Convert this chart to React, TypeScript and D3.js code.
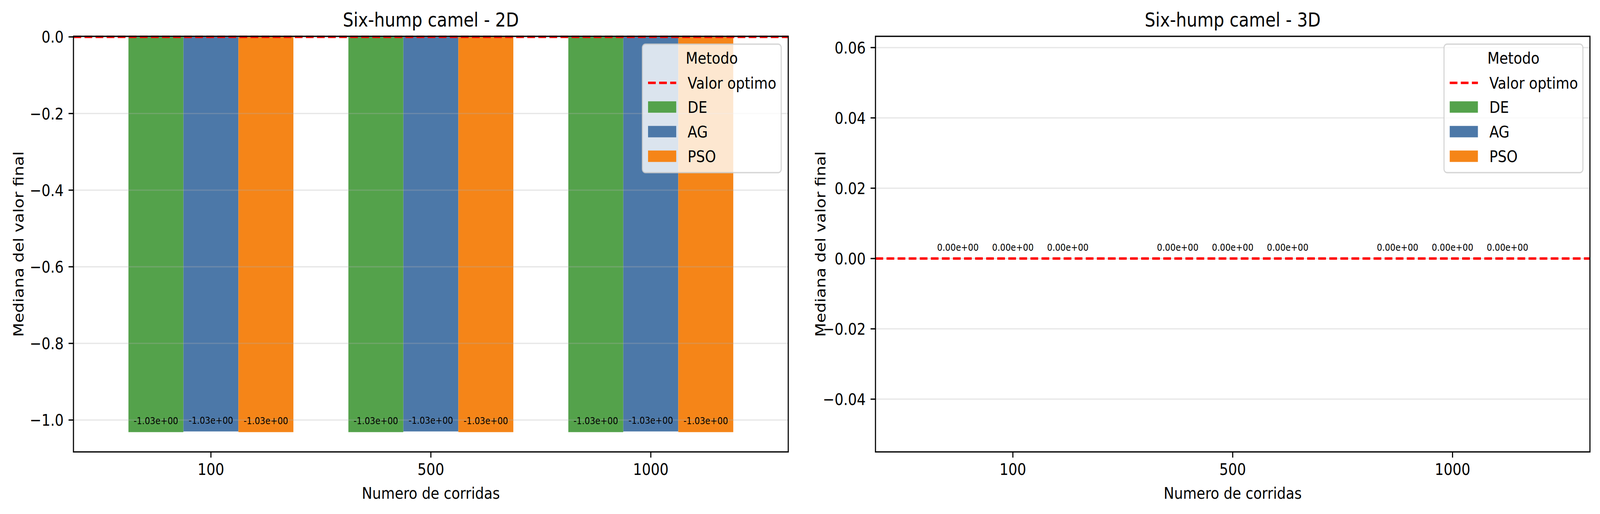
import React, { useEffect } from "react";
import * as d3 from "d3";

const categories = ["100", "500", "1000"];
const methods = ["DE", "AG", "PSO"];
const methodColors = ["#54a24b", "#4c78a8", "#f58518"];

// Panel 2D median final values (per method, per category)
const values2D_DE = [-1.0316, -1.0316, -1.0316];
const values2D_AG = [-1.0298, -1.0298, -1.0298];
const values2D_PSO = [-1.0316, -1.0316, -1.0316];

// Panel 3D median final values
const values3D_DE = [0, 0, 0];
const values3D_AG = [0, 0, 0];
const values3D_PSO = [0, 0, 0];

const optimo2D = 0;
const optimo3D = 0;

const yTicks2D = [0, -0.2, -0.4, -0.6, -0.8, -1.0];
const yTicks3D = [0.06, 0.04, 0.02, 0, -0.02, -0.04];

const titles = ["Six-hump camel - 2D", "Six-hump camel - 3D"];
const xLabel = "Numero de corridas";
const yLabel = "Mediana del valor final";
const legendTitle = "Metodo";
const optimoLabel = "Valor optimo";

const W = 4770;
const H = 1316;
const FONT = "DejaVu Sans, Liberation Sans, sans-serif";
const FS = 41.7;

type PanelProps = {
  left: number;
  right: number;
  top: number;
  bottom: number;
  yDomain: [number, number];
  yTicks: number[];
  tickFormat: string;
  series: number[][];
  optimo: number;
  title: string;
};

function Legend({ right, top }: { right: number; top: number }) {
  const w = 414;
  const h = 329;
  const x0 = right - 21 - w;
  const y0 = top + 20;
  const hx0 = x0 + 17;
  const hx1 = hx0 + 84;
  const tx = x0 + 135;
  const rows = [y0 + 99, y0 + 161, y0 + 224, y0 + 287];
  return (
    <g>
      <rect x={x0} y={y0} width={w} height={h} rx={9} ry={9} fill="white" fillOpacity={0.8} stroke="#cccccc" strokeOpacity={0.8} strokeWidth={3.3} />
      <text x={x0 + w / 2} y={y0 + 35 + 15} textAnchor="middle" fontSize={FS} fontFamily={FONT}>{legendTitle}</text>
      <line x1={hx0} x2={hx1} y1={rows[0]} y2={rows[0]} stroke="red" strokeWidth={6.25} strokeDasharray="23,10" />
      <text x={tx} y={rows[0] + 15} fontSize={FS} fontFamily={FONT}>{optimoLabel}</text>
      {methods.map((m, i) => (
        <g key={m}>
          <rect x={hx0} y={rows[i + 1] - 14.6} width={hx1 - hx0} height={29.2} fill={methodColors[i]} />
          <text x={tx} y={rows[i + 1] + 15} fontSize={FS} fontFamily={FONT}>{m}</text>
        </g>
      ))}
    </g>
  );
}

function Panel(p: PanelProps) {
  const x = d3.scaleLinear().domain([-0.625, 2.625]).range([p.left, p.right]);
  const y = d3.scaleLinear().domain(p.yDomain).range([p.bottom, p.top]);
  const fmt = d3.format(p.tickFormat);
  const barW = 0.25;
  const offsets = [-0.25, 0, 0.25];
  const lblFmt = (v: number) => {
    const s = v.toExponential(2);
    const [m, e] = s.split("e");
    const sign = e[0] === "-" ? "-" : "+";
    const ex = e.replace(/[+-]/, "").padStart(2, "0");
    return `${m}e${sign}${ex}`;
  };
  const cx = (p.left + p.right) / 2;
  const cy = (p.top + p.bottom) / 2;
  return (
    <g>
      {p.series.map((vals, si) =>
        vals.map((v, ci) => {
          const xl = x(ci + offsets[si] - barW / 2);
          const xr = x(ci + offsets[si] + barW / 2);
          const y0 = y(0);
          const y1 = y(v);
          return (
            <rect key={`${si}-${ci}`} x={xl} width={xr - xl} y={Math.min(y0, y1)} height={Math.abs(y1 - y0)} fill={methodColors[si]} />
          );
        })
      )}
      {p.yTicks.map((t) => (
        <line key={`g${t}`} x1={p.left} x2={p.right} y1={y(t)} y2={y(t)} stroke="#b0b0b0" strokeOpacity={0.3} strokeWidth={3.3} />
      ))}
      <line x1={p.left} x2={p.right} y1={y(p.optimo)} y2={y(p.optimo)} stroke="red" strokeWidth={6.25} strokeDasharray="23,10" />
      {p.series.map((vals, si) =>
        vals.map((v, ci) => (
          <text key={`l${si}-${ci}`} x={x(ci + offsets[si])} y={y(v) - 20} textAnchor="middle" fontSize={25} fontFamily={FONT}>
            {lblFmt(v)}
          </text>
        ))
      )}
      <rect x={p.left} y={p.top} width={p.right - p.left} height={p.bottom - p.top} fill="none" stroke="black" strokeWidth={3.3} />
      {p.yTicks.map((t) => (
        <g key={`t${t}`}>
          <line x1={p.left - 14.6} x2={p.left} y1={y(t)} y2={y(t)} stroke="black" strokeWidth={3.3} />
          <text x={p.left - 29} y={y(t) + 15} textAnchor="end" fontSize={FS} fontFamily={FONT}>{fmt(t)}</text>
        </g>
      ))}
      {categories.map((c, i) => (
        <g key={`x${c}`}>
          <line x1={x(i)} x2={x(i)} y1={p.bottom} y2={p.bottom + 14.6} stroke="black" strokeWidth={3.3} />
          <text x={x(i)} y={p.bottom + 59} textAnchor="middle" fontSize={FS} fontFamily={FONT}>{c}</text>
        </g>
      ))}
      <text x={cx} y={p.top - 25} textAnchor="middle" fontSize={50} fontFamily={FONT}>{p.title}</text>
      <text x={cx} y={p.bottom + 120} textAnchor="middle" fontSize={FS} fontFamily={FONT}>{xLabel}</text>
      <text transform={`translate(${p.left - 149},${cy}) rotate(-90)`} textAnchor="middle" fontSize={FS} fontFamily={FONT}>{yLabel}</text>
      <Legend right={p.right} top={p.top} />
    </g>
  );
}

export default function App() {
  useEffect(() => {
    document.documentElement.style.margin = "0";
    document.documentElement.style.overflow = "hidden";
    document.body.style.margin = "0";
    document.body.style.overflow = "hidden";
  }, []);
  return (
    <svg
      viewBox={`0 0 ${W} ${H}`}
      preserveAspectRatio="none"
      style={{ display: "block", width: "100vw", height: "100vh", background: "white" }}
    >
      <rect x={0} y={0} width={W} height={H} fill="white" />
      <Panel
        left={219}
        right={2350}
        top={93}
        bottom={1157}
        yDomain={[-1.0832, 0.0015]}
        yTicks={yTicks2D}
        tickFormat=".1f"
        series={[values2D_DE, values2D_AG, values2D_PSO]}
        optimo={optimo2D}
        title={titles[0]}
      />
      <Panel
        left={2610}
        right={4740}
        top={93}
        bottom={1157}
        yDomain={[-0.055, 0.0632]}
        yTicks={yTicks3D}
        tickFormat=".2f"
        series={[values3D_DE, values3D_AG, values3D_PSO]}
        optimo={optimo3D}
        title={titles[1]}
      />
    </svg>
  );
}
